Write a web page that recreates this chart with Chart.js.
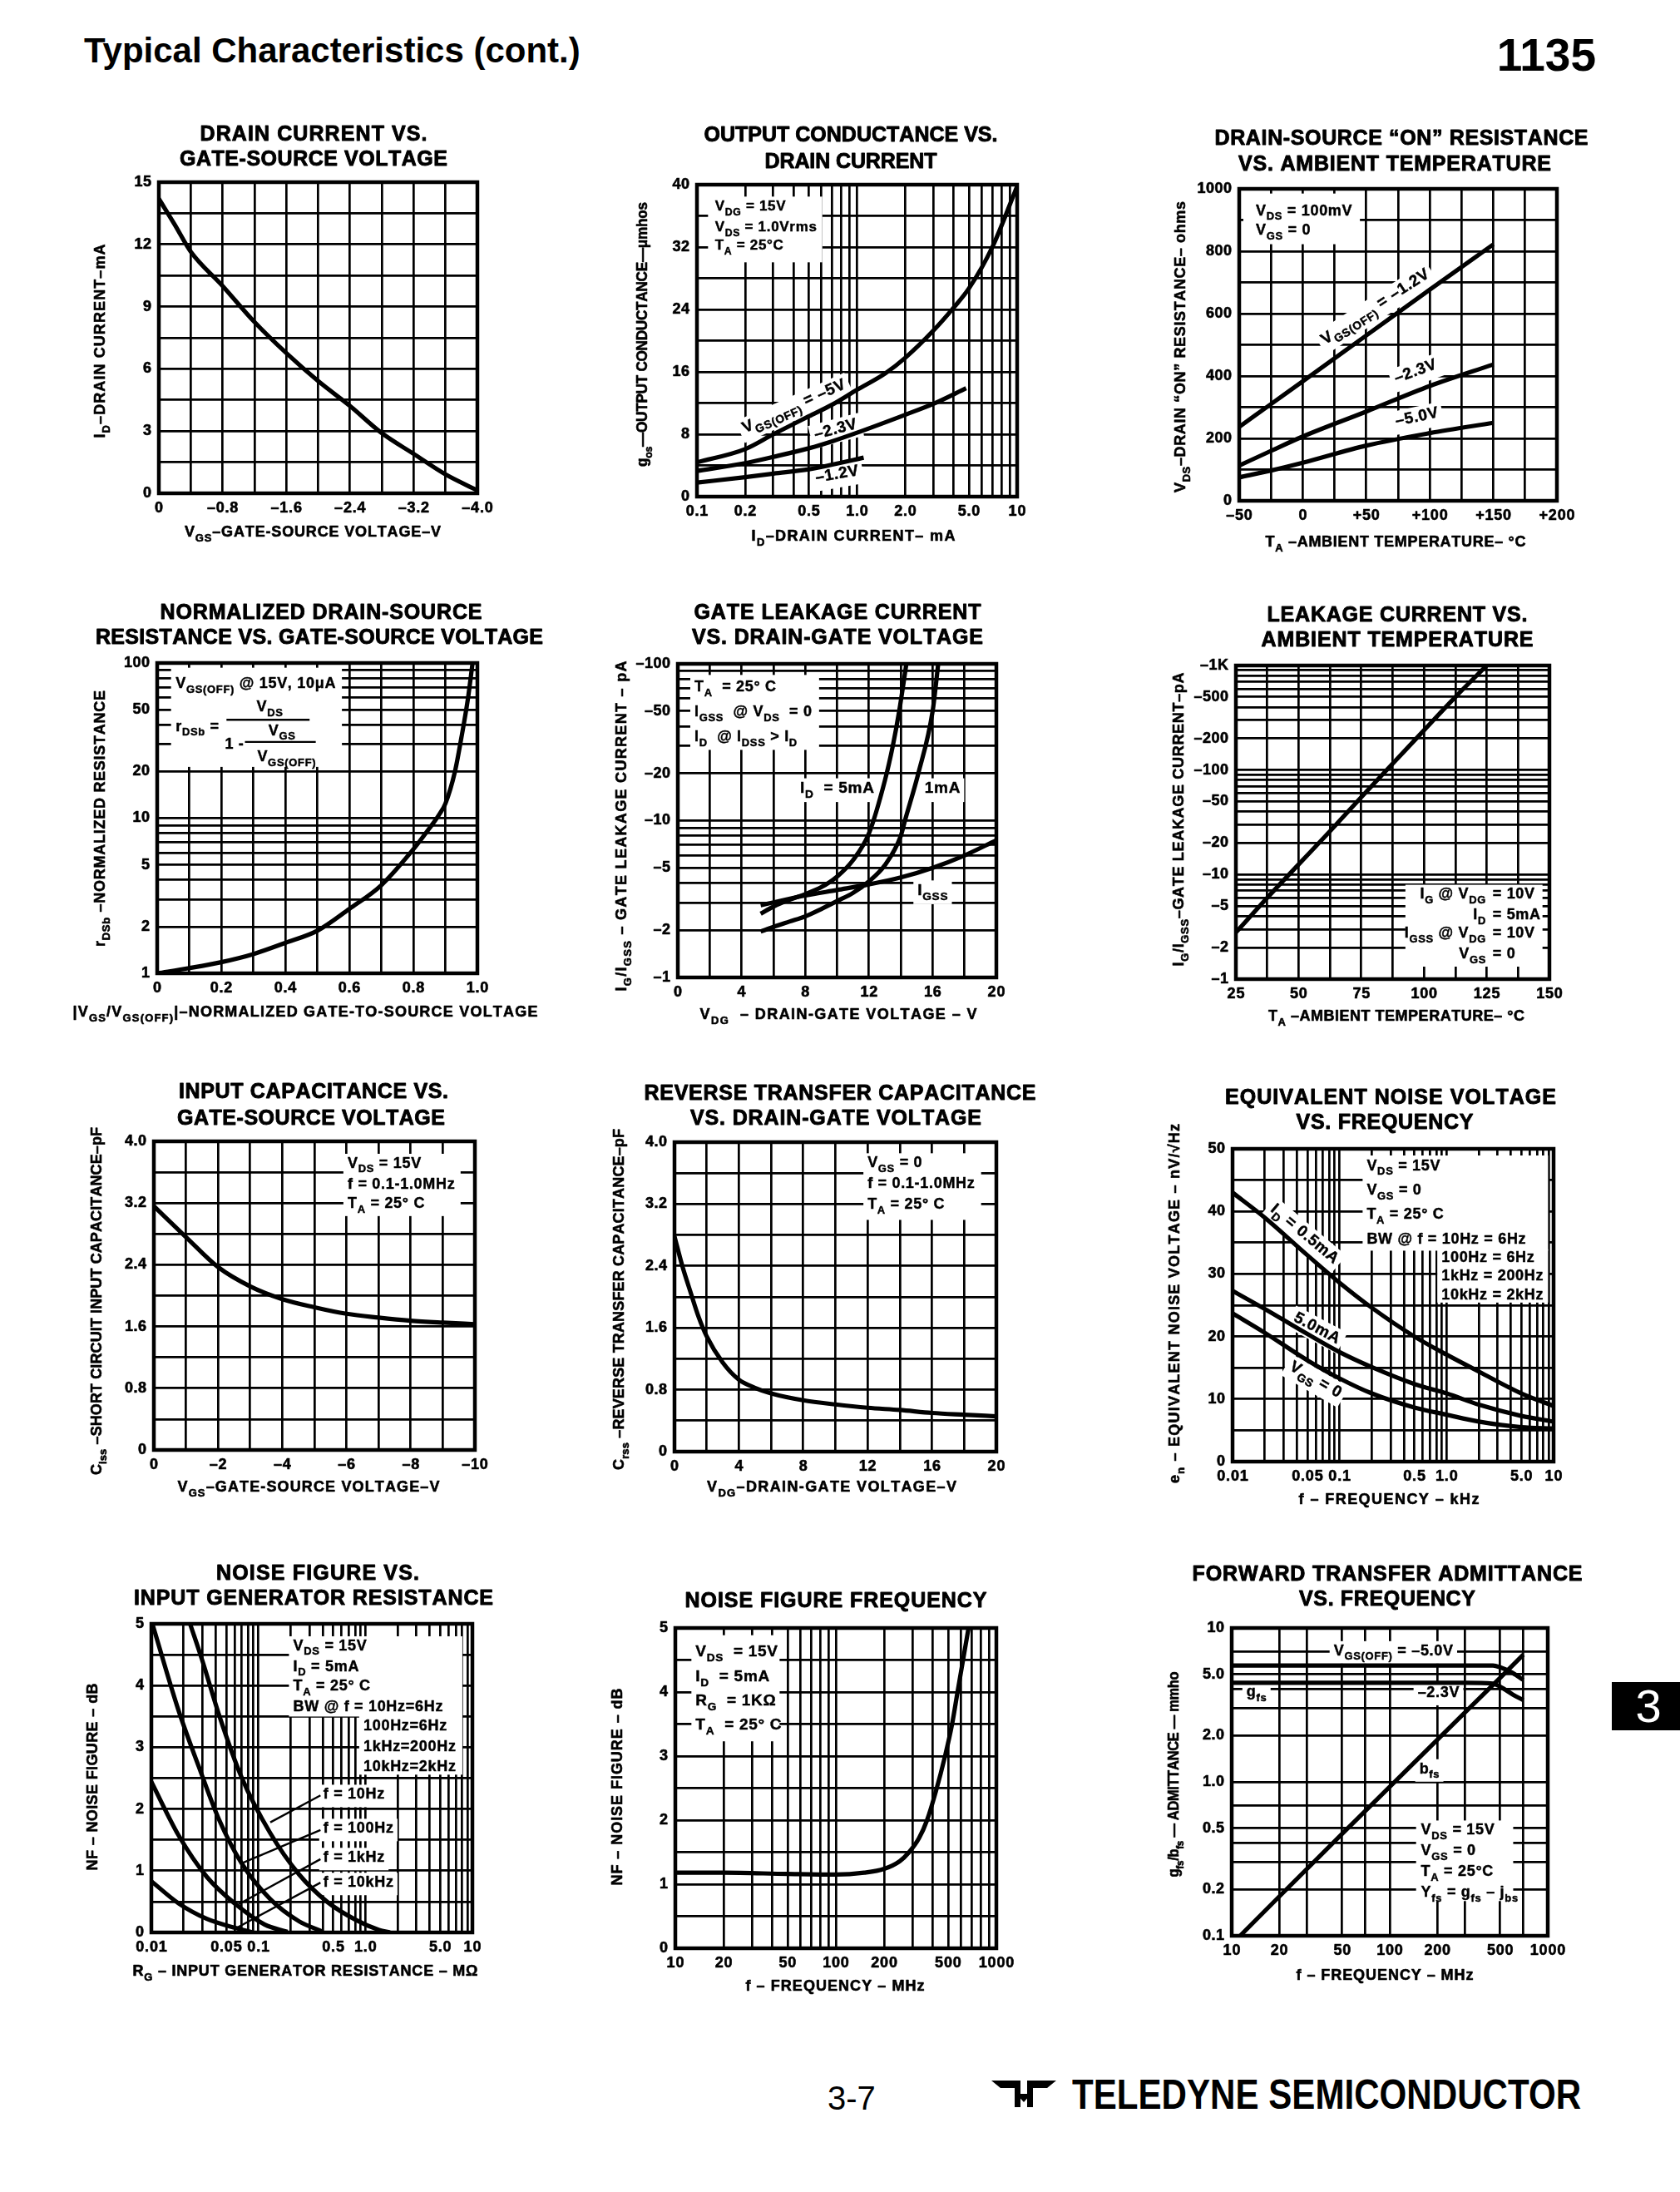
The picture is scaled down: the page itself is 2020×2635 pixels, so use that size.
<!DOCTYPE html>
<html><head><meta charset="utf-8">
<script src="https://cdn.jsdelivr.net/npm/chart.js@4.4.1/dist/chart.umd.min.js"></script>
<style>
html,body{margin:0;padding:0;background:#fff;}
body{width:2020px;height:2635px;position:relative;overflow:hidden;font-family:"Liberation Sans",Arial,Helvetica,sans-serif;color:#000;}
.abs{position:absolute;white-space:nowrap;line-height:1;}
</style></head><body>
<div class="abs" style="left:101px;top:40px;font-size:42px;font-weight:bold;">Typical Characteristics (cont.)</div>
<div class="abs" style="right:101px;top:39px;font-size:55px;font-weight:bold;">1135</div>
<div class="abs" style="left:995px;top:2502px;font-size:40px;">3-7</div>
<canvas id="logo" class="abs" width="80" height="40" style="left:1192px;top:2497px;"></canvas>
<div class="abs" style="left:1289px;top:2493px;font-size:50px;font-weight:bold;transform:scaleX(0.842);transform-origin:left top;">TELEDYNE SEMICONDUCTOR</div>
<script>
// ================= DATA =================
// 1 Drain current vs gate-source voltage
const c1_vgs = [0,-0.2,-0.4,-0.8,-1.2,-1.6,-2.0,-2.4,-2.8,-3.2,-3.6,-4.0];
const c1_id  = [14.2,12.95,11.65,10.0,8.26,6.76,5.41,4.21,2.9,1.9,0.91,0.14];
const c1_xTickVals = [0,-0.8,-1.6,-2.4,-3.2,-4.0];
const c1_xTickLbls = ['0','–0.8','–1.6','–2.4','–3.2','–4.0'];
const c1_yTickVals = [0,3,6,9,12,15];
const c1_yTickLbls = ['0','3','6','9','12','15'];
// 2 Output conductance vs drain current
const c2_id5  = [0.1,0.2,0.3,0.5,0.7,1.0,1.5,2.0,3.0,4.0,5.0,7.0,10];
const c2_gos5 = [4.4,6.1,8.0,10.3,11.8,13.7,15.8,17.8,21.3,24.2,26.7,32.0,39.8];
const c2_id23  = [0.1,0.2,0.3,0.5,0.7,1.0,2.0,3.0,4.8];
const c2_gos23 = [3.3,4.3,5.1,6.2,7.1,8.2,10.5,11.9,13.9];
const c2_id12  = [0.1,0.2,0.3,0.5,0.7,1.1];
const c2_gos12 = [1.8,2.5,2.95,3.5,4.1,5.0];
const c2_xTickVals = [0.1,0.2,0.5,1,2,5,10];
const c2_xTickLbls = ['0.1','0.2','0.5','1.0','2.0','5.0','10'];
const c2_yTickVals = [0,8,16,24,32,40];
const c2_yTickLbls = ['0','8','16','24','32','40'];
// 3 Drain-source ON resistance vs temperature
const c3_temp = [-50,-25,0,50,100,150];
const c3_r12  = [237,310,383,530,677,822];
const c3_r23  = [113,160,206,286,368,437];
const c3_r50  = [75,97,122,177,217,250];
const c3_xTickVals = [-50,0,50,100,150,200];
const c3_xTickLbls = ['–50','0','+50','+100','+150','+200'];
const c3_yTickVals = [0,200,400,600,800,1000];
const c3_yTickLbls = ['0','200','400','600','800','1000'];
// 4 Normalized drain-source resistance
const c4_vr = [0,0.1,0.2,0.3,0.4,0.5,0.6,0.7,0.8,0.85,0.88,0.9,0.93,0.95,0.97,0.985];
const c4_r  = [1.0,1.08,1.18,1.33,1.57,1.88,2.6,3.7,6.3,8.6,10.5,12.4,20,33,58,100];
const c4_xTickVals = [0,0.2,0.4,0.6,0.8,1.0];
const c4_xTickLbls = ['0','0.2','0.4','0.6','0.8','1.0'];
const c4_yTickVals = [1,2,5,10,20,50,100];
const c4_yTickLbls = ['1','2','5','10','20','50','100'];
// 5 Gate leakage current vs drain-gate voltage (magnitudes, pA)
const c5_v5  = [5.2,6,7,8,9,10,11,12,13,13.5,13.9,14.35];
const c5_i5  = [2.55,2.83,3.13,3.4,3.76,4.4,5.6,8.3,18,30,50,100];
const c5_v1  = [5.2,6,7,8,9,10,11,12,13,14,14.26,15.1,16.0,16.35];
const c5_i1  = [1.96,2.1,2.27,2.45,2.73,3.07,3.46,4.1,5.2,8.0,10,20,50,100];
const c5_vg  = [5.2,8,10,12,14,16,18,20];
const c5_ig  = [2.89,3.33,3.61,3.92,4.34,5.0,6.0,7.5];
const c5_xTickVals = [0,4,8,12,16,20];
const c5_xTickLbls = ['0','4','8','12','16','20'];
const c5_yTickVals = [1,2,5,10,20,50,100];
const c5_yTickLbls = ['–1','–2','–5','–10','–20','–50','–100'];
// 6 Leakage current vs ambient temperature
const c6_temp = [25,37.5,50,62.5,75,87.5,100,112.5,125];
const c6_leak = [2.8,6.0,12.5,26,55,115,240,500,1000];
const c6_xTickVals = [25,50,75,100,125,150];
const c6_xTickLbls = ['25','50','75','100','125','150'];
const c6_yTickVals = [1,2,5,10,20,50,100,200,500,1000];
const c6_yTickLbls = ['–1','–2','–5','–10','–20','–50','–100','–200','–500','–1K'];
// 7 Input capacitance vs gate-source voltage
const c7_vgs  = [0,-1,-2,-3,-4,-5,-6,-7,-8,-9,-10];
const c7_ciss = [3.16,2.76,2.37,2.12,1.955,1.85,1.765,1.715,1.675,1.65,1.63];
const c7_xTickVals = [0,-2,-4,-6,-8,-10];
const c7_xTickLbls = ['0','–2','–4','–6','–8','–10'];
const cap_yTickVals = [0,0.8,1.6,2.4,3.2,4.0];
const cap_yTickLbls = ['0','0.8','1.6','2.4','3.2','4.0'];
// 8 Reverse transfer capacitance vs drain-gate voltage
const c8_vdg  = [0,0.5,1,1.5,2,3,4,5,6,8,10,12,14,16,18,20];
const c8_crss = [2.78,2.39,2.06,1.74,1.49,1.15,0.93,0.825,0.753,0.664,0.61,0.567,0.538,0.50,0.477,0.456];
const c8_xTickVals = [0,4,8,12,16,20];
const c8_xTickLbls = ['0','4','8','12','16','20'];
// 9 Equivalent noise voltage vs frequency
const c9_f    = [0.01,0.02,0.05,0.1,0.2,0.5,1,2,5,10];
const c9_en05 = [43.0,39.0,33.0,28.6,24.6,20.0,17.1,14.4,10.9,8.9];
const c9_en5  = [27.3,24.4,20.4,17.5,15.1,12.4,10.9,9.1,7.3,6.4];
const c9_envg = [23.7,20.6,16.2,13.3,10.9,8.65,7.5,6.4,5.5,5.3];
const khz_xTickVals = [0.01,0.05,0.1,0.5,1,5,10];
const khz_xTickLbls = ['0.01','0.05','0.1','0.5','1.0','5.0','10'];
const c9_yTickVals = [0,10,20,30,40,50];
const c9_yTickLbls = ['0','10','20','30','40','50'];
// 10 Noise figure vs input generator resistance
const c10_rA = [0.023,0.03,0.0426,0.0698,0.129,0.24,0.444,0.82,1.34,1.7];
const c10_nA = [5.0,4.4,3.54,2.51,1.61,0.94,0.49,0.2,0.04,0.0];
const c10_rB = [0.0103,0.018,0.0277,0.0426,0.0698,0.129,0.24,0.39];
const c10_nB = [4.98,3.59,2.69,1.84,1.12,0.54,0.18,0.02];
const c10_rC = [0.01,0.018,0.033,0.062,0.114,0.187];
const c10_nC = [2.44,1.57,0.9,0.45,0.13,0.01];
const c10_rD = [0.01,0.018,0.033,0.062,0.089];
const c10_nD = [0.83,0.47,0.22,0.07,0.0];
const nf_yTickVals = [0,1,2,3,4,5];
const nf_yTickLbls = ['0','1','2','3','4','5'];
// 11 Noise figure vs frequency
const c11_f  = [10,20,50,100,150,200,250,286,330,370,420,479,530,573,620,671];
const c11_nf = [1.18,1.18,1.16,1.15,1.18,1.24,1.36,1.5,1.72,2.0,2.45,3.0,3.5,4.0,4.5,5.0];
const mhz_xTickVals = [10,20,50,100,200,500,1000];
const mhz_xTickLbls = ['10','20','50','100','200','500','1000'];
// 12 Forward transfer admittance vs frequency
const c12_fg  = [10,20,50,100,200,300,450,500,600,700];
const c12_g5  = [5.7,5.7,5.7,5.7,5.7,5.7,5.7,5.55,5.1,4.6];
const c12_g23 = [4.4,4.4,4.4,4.4,4.4,4.4,4.35,4.15,3.7,3.4];
const c12_fb  = [11.3,20,50,100,200,500,700];
const c12_b   = [0.1,0.18,0.46,0.93,1.88,4.75,6.7];
const c12_yTickVals = [0.1,0.2,0.5,1,2,5,10];
const c12_yTickLbls = ['0.1','0.2','0.5','1.0','2.0','5.0','10'];

// ================= HELPERS =================
const FAM = '"Liberation Sans", Arial, Helvetica, sans-serif';
function lin(a,b,step){const o=[];const n=Math.round((b-a)/step);for(let i=0;i<=n;i++)o.push(+(a+i*step).toFixed(6));return o;}
function logg(a,b,mults){const o=[];for(let d=Math.floor(Math.log10(a)+1e-9);Math.pow(10,d)<=b*1.0001;d++){mults.forEach(m=>{const v=+(m*Math.pow(10,d)).toPrecision(6);if(v>=a*0.9999&&v<=b*1.0001)o.push(v);});}return o;}
const ALL=[1,2,3,4,5,6,7,8,9];
function segs(str){const out=[];const re=/_\{([^}]*)\}/g;let last=0,m;while((m=re.exec(str))){if(m.index>last)out.push({t:str.slice(last,m.index),sub:false});out.push({t:m[1],sub:true});last=re.lastIndex;}if(last<str.length)out.push({t:str.slice(last),sub:false});return out;}
function drawRich(ctx,str,x,y,o){
  o=o||{};const size=o.size||15,wt=o.weight||'bold',sub=size*0.72;
  const parts=segs(str);let natural=0,nch=0;
  parts.forEach(p=>{ctx.font=`${wt} ${p.sub?sub:size}px ${FAM}`;p.cw=[...p.t].map(ch=>ctx.measureText(ch).width);natural+=p.cw.reduce((a,b)=>a+b,0);nch+=p.cw.length;});
  let L=o.ls||0,sx=1;
  if(o.fit){L=(o.fit-natural)/Math.max(1,nch-1);if(L>6)L=6;if(L<-0.3){L=-0.3;sx=o.fit/(natural+L*(nch-1));}}
  const w=(natural+L*(nch-1))*sx;
  ctx.save();ctx.translate(x,y);if(o.rot)ctx.rotate(o.rot*Math.PI/180);
  let x0=o.align==='center'?-w/2:o.align==='right'?-w:0;
  if(o.bg){ctx.fillStyle='#fff';ctx.fillRect(x0-5,-size*0.66,w+10,size*1.5);}
  if(o.bgOnly){ctx.restore();return;}
  ctx.scale(sx,1);x0/=sx;
  ctx.fillStyle='#000';ctx.strokeStyle='#000';ctx.lineWidth=o.stroke||0;ctx.lineJoin='round';
  ctx.textBaseline='middle';ctx.textAlign='left';
  let cx=x0;
  parts.forEach(p=>{ctx.font=`${wt} ${p.sub?sub:size}px ${FAM}`;const dy=p.sub?size*0.4:0;[...p.t].forEach((ch,i)=>{ctx.fillText(ch,cx,dy);if(o.stroke)ctx.strokeText(ch,cx,dy);cx+=p.cw[i]+L;});});
  ctx.restore();
}

let chartCount=0;
function buildChart(spec){
  const bx=spec.plot[0]-125,by=spec.plot[1]-105,bw=spec.plot[2]+82-bx,bh=spec.plot[3]+88-by;
  const wrap=document.createElement('div');
  wrap.style.cssText=`position:absolute;left:${bx}px;top:${by}px;width:${bw}px;height:${bh}px;`;
  const cv=document.createElement('canvas');wrap.appendChild(cv);document.body.appendChild(wrap);
  const pad={left:spec.plot[0]-bx,top:spec.plot[1]-by,right:bx+bw-spec.plot[2],bottom:by+bh-spec.plot[3]};
  const axis=(a)=>({type:a.type,min:a.min,max:a.max,reverse:!!a.reverse,display:true,
    grid:{display:true,color:'#000',lineWidth:2.7,drawTicks:false,drawOnChartArea:true},
    border:{display:false},ticks:{display:false,autoSkip:false},title:{display:false},
    afterBuildTicks:(s)=>{s.ticks=a.grid.map(v=>({value:v}));}});
  const AS=spec.asz||18;
  const plugin={id:'decor'+(chartCount++),
    beforeDatasetsDraw(chart){
      const ctx=chart.ctx,ca=chart.chartArea,f=spec.frame;
      const map=(zx,zy)=>[ca.left+(zx-f[0])/(f[2]-f[0])*(ca.right-ca.left),ca.top+(zy-f[1])/(f[3]-f[1])*(ca.bottom-ca.top)];
      const ann=spec.ann||[];
      ctx.save();ctx.fillStyle='#fff';
      ann.forEach(a=>{if(a.box){const p=map(a.box[0],a.box[1]),q=map(a.box[2],a.box[3]);ctx.fillRect(p[0],p[1],q[0]-p[0],q[1]-p[1]);}});
      ann.forEach(a=>{if(a.t&&a.bg){const p=map(a.x,a.y);drawRich(ctx,a.t,p[0],p[1],{size:a.s||AS,align:a.a,rot:a.r,ls:0.7,bg:true,bgOnly:true});}});
      ctx.strokeStyle='#000';
      ann.forEach(a=>{if(a.line){const p=map(a.line[0],a.line[1]),q=map(a.line[2],a.line[3]);ctx.lineWidth=a.w||2.4;ctx.beginPath();ctx.moveTo(p[0],p[1]);ctx.lineTo(q[0],q[1]);ctx.stroke();}});
      ann.forEach(a=>{if(a.t){const p=map(a.x,a.y);drawRich(ctx,a.t,p[0],p[1],{size:a.s||AS,align:a.a,rot:a.r,ls:0.7,stroke:0.45});}});
      ctx.restore();
    },
    afterDraw(chart){
      const ctx=chart.ctx,ca=chart.chartArea,xs=chart.scales.x,ys=chart.scales.y;
      ctx.save();
      ctx.strokeStyle='#000';ctx.lineWidth=4.5;ctx.strokeRect(ca.left,ca.top,ca.right-ca.left,ca.bottom-ca.top);
      spec.xt[0].forEach((v,i)=>drawRich(ctx,spec.xt[1][i],xs.getPixelForValue(v),ca.bottom+18,{size:18,align:'center',ls:0.8,stroke:0.6}));
      spec.yt[0].forEach((v,i)=>drawRich(ctx,spec.yt[1][i],ca.left-9,ys.getPixelForValue(v),{size:18,align:'right',ls:0.5,stroke:0.6}));
      spec.titles.forEach(t=>drawRich(ctx,t[0],t[1]-bx,t[2]-by,{size:25,align:'center',fit:t[3],stroke:0.9}));
      const xt=spec.xTitle,yt=spec.yTitle;
      drawRich(ctx,xt[0],xt[1]-bx,xt[2]-by,{size:18,align:'center',fit:xt[3],stroke:0.6});
      drawRich(ctx,yt[0],yt[1]-bx,yt[2]-by,{size:18,align:'center',rot:-90,fit:yt[3],stroke:0.6});
      ctx.restore();
    }};
  new Chart(cv,{type:'line',
    data:{datasets:spec.series.map(([xa,ya])=>({data:xa.map((x,i)=>({x,y:ya[i]})),borderColor:'#000',borderWidth:5.2,pointRadius:0,pointHoverRadius:0,fill:false,cubicInterpolationMode:'monotone',borderCapStyle:'butt',borderJoinStyle:'round'}))},
    options:{responsive:true,maintainAspectRatio:false,animation:false,devicePixelRatio:1,events:[],
      layout:{padding:pad},plugins:{legend:{display:false},tooltip:{enabled:false},title:{display:false}},
      scales:{x:axis(spec.x),y:axis(spec.y)}},
    plugins:[plugin]});
}

// ================= CHART SPECS =================
const SPECS=[
 {plot:[191,219,574,593],frame:[320,237,1470,1360],
  x:{type:'linear',min:-4,max:0,reverse:true,grid:lin(-4,0,0.4)},y:{type:'linear',min:0,max:15,grid:lin(0,15,1.5)},
  xt:[c1_xTickVals,c1_xTickLbls],yt:[c1_yTickVals,c1_yTickLbls],series:[[c1_vgs,c1_id]],
  titles:[['DRAIN CURRENT VS.',377,162,273],['GATE-SOURCE VOLTAGE',377,192,322]],
  xTitle:['V_{GS}–GATE-SOURCE VOLTAGE–V',376,640,308],yTitle:['I_{D}–DRAIN CURRENT–mA',121,410,233],ann:[]},
 {plot:[838,222,1223,597],frame:[310,245,1465,1370],asz:17,
  x:{type:'logarithmic',min:0.1,max:10,grid:logg(0.1,10,ALL)},y:{type:'linear',min:0,max:40,grid:lin(0,40,4)},
  xt:[c2_xTickVals,c2_xTickLbls],yt:[c2_yTickVals,c2_yTickLbls],
  series:[[c2_id5,c2_gos5],[c2_id23,c2_gos23],[c2_id12,c2_gos12]],
  titles:[['OUTPUT CONDUCTANCE VS.',1023,163,353],['DRAIN CURRENT',1023,195,207]],
  xTitle:['I_{D}–DRAIN CURRENT– mA',1026,645,245],yTitle:['g_{os}—OUTPUT CONDUCTANCE—μmhos',773,402,318],
  ann:[{box:[350,288,762,525]},{t:'V_{DG} = 15V',x:375,y:325},{t:'V_{DS} = 1.0Vrms',x:375,y:400},{t:'T_{A} = 25°C',x:375,y:465},
   {t:'V_{GS(OFF)} = –5V',x:660,y:1045,a:'center',r:-24,bg:1,s:19},{t:'–2.3V',x:810,y:1128,a:'center',r:-15,bg:1,s:19},{t:'–1.2V',x:815,y:1290,a:'center',r:-10,bg:1,s:19}]},
 {plot:[1490,227,1872,602],frame:[270,245,1415,1372],
  x:{type:'linear',min:-50,max:200,grid:lin(-50,200,25)},y:{type:'linear',min:0,max:1000,grid:lin(0,1000,100)},
  xt:[c3_xTickVals,c3_xTickLbls],yt:[c3_yTickVals,c3_yTickLbls],
  series:[[c3_temp,c3_r12],[c3_temp,c3_r23],[c3_temp,c3_r50]],
  titles:[['DRAIN-SOURCE “ON” RESISTANCE',1685,167,449],['VS. AMBIENT TEMPERATURE',1677,198,376]],
  xTitle:['T_{A} –AMBIENT TEMPERATURE– °C',1678,652,313],yTitle:['V_{DS}–DRAIN “ON” RESISTANCE– ohms',1420,417,350],
  ann:[{box:[285,262,705,445]},{t:'V_{DS} = 100mV',x:330,y:325},{t:'V_{GS} = 0',x:330,y:395},
   {t:'V_{GS(OFF)} = –1.2V',x:760,y:672,a:'center',r:-33,bg:1,s:19},{t:'–2.3V',x:905,y:905,a:'center',r:-20,bg:1,s:19},{t:'–5.0V',x:910,y:1070,a:'center',r:-12,bg:1,s:19}]},
 {plot:[189,797,574,1170],frame:[285,245,1325,1365],
  x:{type:'linear',min:0,max:1,grid:lin(0,1,0.1)},y:{type:'logarithmic',min:1,max:100,grid:logg(1,100,ALL)},
  xt:[c4_xTickVals,c4_xTickLbls],yt:[c4_yTickVals,c4_yTickLbls],series:[[c4_vr,c4_r]],
  titles:[['NORMALIZED DRAIN-SOURCE',386,737,387],['RESISTANCE VS. GATE-SOURCE VOLTAGE',384,767,538]],
  xTitle:['|V_{GS}/V_{GS(OFF)}|–NORMALIZED GATE-TO-SOURCE VOLTAGE',367,1217,559],yTitle:['r_{DSb} –NORMALIZED RESISTANCE',121,984,308],
  ann:[{box:[330,262,885,620]},{t:'V_{GS(OFF)} @ 15V, 10μA',x:345,y:320},{t:'r_{DSb} =',x:345,y:475},
   {line:[510,450,780,450],w:2.4},{t:'V_{DS}',x:650,y:405,a:'center'},{t:'1 -',x:505,y:540},
   {line:[570,530,800,530],w:2.4},{t:'V_{GS}',x:690,y:490,a:'center'},{t:'V_{GS(OFF)}',x:705,y:585,a:'center'}]},
 {plot:[815,798,1198,1175],frame:[240,250,1390,1380],
  x:{type:'linear',min:0,max:20,grid:lin(0,20,2)},y:{type:'logarithmic',min:1,max:100,grid:logg(1,100,ALL)},
  xt:[c5_xTickVals,c5_xTickLbls],yt:[c5_yTickVals,c5_yTickLbls],
  series:[[c5_v5,c5_i5],[c5_v1,c5_i1],[c5_vg,c5_ig]],
  titles:[['GATE LEAKAGE CURRENT',1007,737,345],['VS. DRAIN-GATE VOLTAGE',1007,767,350]],
  xTitle:['V_{DG}  – DRAIN-GATE VOLTAGE – V',1008,1220,333],yTitle:['I_{G}/I_{GSS} – GATE LEAKAGE CURRENT – pA',748,993,397],
  ann:[{box:[285,290,750,560]},{t:'T_{A}  = 25° C',x:300,y:335},{t:'I_{GSS}  @ V_{DS}  = 0',x:300,y:425},{t:'I_{D}  @ I_{DSS} > I_{D}',x:300,y:515},
   {t:'I_{D}  = 5mA',x:815,y:700,a:'center',bg:1,s:19},{t:'1mA',x:1195,y:700,a:'center',bg:1,s:19},{t:'I_{GSS}',x:1160,y:1068,a:'center',bg:1,s:19}]},
 {plot:[1486,800,1863,1177],frame:[258,255,1390,1385],
  x:{type:'linear',min:25,max:150,grid:lin(25,150,12.5)},y:{type:'logarithmic',min:1,max:1000,grid:logg(1,1000,ALL)},
  xt:[c6_xTickVals,c6_xTickLbls],yt:[c6_yTickVals,c6_yTickLbls],series:[[c6_temp,c6_leak]],
  titles:[['LEAKAGE CURRENT VS.',1680,740,313],['AMBIENT TEMPERATURE',1680,770,327]],
  xTitle:['T_{A} –AMBIENT TEMPERATURE– °C',1679,1222,308],yTitle:['I_{G}/I_{GSS}–GATE LEAKAGE CURRENT–pA',1418,985,353],
  ann:[{box:[870,1045,1365,1340]},
   {t:'I_{G} @ V_{DG}',x:1160,y:1080,a:'right'},{t:'= 10V',x:1185,y:1080},
   {t:'I_{D}',x:1160,y:1155,a:'right'},{t:'= 5mA',x:1185,y:1155},
   {t:'I_{GSS} @ V_{DG}',x:1160,y:1220,a:'right'},{t:'= 10V',x:1185,y:1220},
   {t:'V_{GS}',x:1160,y:1295,a:'right'},{t:'= 0',x:1185,y:1295}]},
 {plot:[185,1372,571,1743],frame:[292,245,1415,1360],
  x:{type:'linear',min:-10,max:0,reverse:true,grid:lin(-10,0,1)},y:{type:'linear',min:0,max:4,grid:lin(0,4,0.4)},
  xt:[c7_xTickVals,c7_xTickLbls],yt:[cap_yTickVals,cap_yTickLbls],series:[[c7_vgs,c7_ciss]],
  titles:[['INPUT CAPACITANCE VS.',377,1313,324],['GATE-SOURCE VOLTAGE',374,1345,322]],
  xTitle:['V_{GS}–GATE-SOURCE VOLTAGE–V',371,1788,315],yTitle:['C_{iss} –SHORT CIRCUIT INPUT CAPACITANCE–pF',117,1564,418],
  ann:[{box:[955,290,1365,515]},{t:'V_{DS} = 15V',x:970,y:325},{t:'f = 0.1-1.0MHz',x:970,y:400},{t:'T_{A} = 25° C',x:970,y:470}]},
 {plot:[811,1373,1198,1745],frame:[228,250,1390,1365],
  x:{type:'linear',min:0,max:20,grid:lin(0,20,2)},y:{type:'linear',min:0,max:4,grid:lin(0,4,0.4)},
  xt:[c8_xTickVals,c8_xTickLbls],yt:[cap_yTickVals,cap_yTickLbls],series:[[c8_vdg,c8_crss]],
  titles:[['REVERSE TRANSFER CAPACITANCE',1010,1315,471],['VS. DRAIN-GATE VOLTAGE',1005,1345,350]],
  xTitle:['V_{DG}–DRAIN-GATE VOLTAGE–V',1000,1788,300],yTitle:['C_{rss} –REVERSE TRANSFER CAPACITANCE–pF',745,1562,410],
  ann:[{box:[910,290,1335,530]},{t:'V_{GS} = 0',x:925,y:325},{t:'f = 0.1-1.0MHz',x:925,y:400},{t:'T_{A} = 25° C',x:925,y:475}]},
 {plot:[1482,1381,1868,1757],frame:[245,258,1405,1385],
  x:{type:'logarithmic',min:0.01,max:10,grid:logg(0.01,10,ALL)},y:{type:'linear',min:0,max:50,grid:lin(0,50,5)},
  xt:[khz_xTickVals,khz_xTickLbls],yt:[c9_yTickVals,c9_yTickLbls],
  series:[[c9_f,c9_en05],[c9_f,c9_en5],[c9_f,c9_envg]],
  titles:[['EQUIVALENT NOISE VOLTAGE',1672,1320,398],['VS. FREQUENCY',1665,1350,213]],
  xTitle:['f – FREQUENCY – kHz',1670,1803,217],yTitle:['e_{n} – EQUIVALENT NOISE VOLTAGE – nV/√Hz',1413,1567,432],
  ann:[{box:[715,282,1385,625]},{box:[985,620,1385,812]},
   {t:'V_{DS} = 15V',x:730,y:320},{t:'V_{GS} = 0',x:730,y:408},{t:'T_{A} = 25° C',x:730,y:495},
   {t:'BW @ f = 10Hz = 6Hz',x:730,y:585},{t:'100Hz = 6Hz',x:1000,y:652},{t:'1kHz = 200Hz',x:1000,y:718},{t:'10kHz = 2kHz',x:1000,y:785},
   {t:'I_{D} = 0.5mA',x:505,y:565,a:'center',r:40,bg:1,s:19},{t:'5.0mA',x:550,y:905,a:'center',r:28,bg:1,s:19},{t:'V_{GS} = 0',x:545,y:1090,a:'center',r:30,bg:1,s:19}]},
 {plot:[182,1952,568,2323],frame:[285,245,1405,1360],
  x:{type:'logarithmic',min:0.01,max:10,grid:logg(0.01,10,ALL)},y:{type:'linear',min:0,max:5,grid:lin(0,5,0.5)},
  xt:[khz_xTickVals,khz_xTickLbls],yt:[nf_yTickVals,nf_yTickLbls],
  series:[[c10_rA,c10_nA],[c10_rB,c10_nB],[c10_rC,c10_nC],[c10_rD,c10_nD]],
  titles:[['NOISE FIGURE VS.',382,1892,244],['INPUT GENERATOR RESISTANCE',377,1922,432]],
  xTitle:['R_{G} – INPUT GENERATOR RESISTANCE – MΩ',367,2370,415],yTitle:['NF – NOISE FIGURE – dB',112,2136,225],
  ann:[{box:[765,290,1370,580]},{box:[1010,575,1370,790]},
   {t:'V_{DS} = 15V',x:780,y:325},{t:'I_{D} = 5mA',x:780,y:400},{t:'T_{A} = 25° C',x:780,y:470},
   {t:'BW @ f = 10Hz=6Hz',x:780,y:545},{t:'100Hz=6Hz',x:1025,y:615},{t:'1kHz=200Hz',x:1025,y:690},{t:'10kHz=2kHz',x:1025,y:762},
   {line:[875,865,700,962]},{t:'f = 10Hz',x:885,y:862,bg:1},
   {line:[875,990,600,1110]},{t:'f = 100Hz',x:885,y:985,bg:1},
   {line:[875,1095,590,1258]},{t:'f = 1kHz',x:885,y:1090,bg:1},
   {line:[875,1180,580,1345]},{t:'f = 10kHz',x:885,y:1180,bg:1}]},
 {plot:[812,1957,1198,2342],frame:[232,172,1390,1325],asz:19,
  x:{type:'logarithmic',min:10,max:1000,grid:logg(10,1000,ALL)},y:{type:'linear',min:0,max:5,grid:lin(0,5,0.5)},
  xt:[mhz_xTickVals,mhz_xTickLbls],yt:[nf_yTickVals,nf_yTickLbls],series:[[c11_f,c11_nf]],
  titles:[['NOISE FIGURE FREQUENCY',1005,1925,363]],
  xTitle:['f – FREQUENCY – MHz',1004,2388,215],yTitle:['NF – NOISE FIGURE – dB',743,2148,237],
  ann:[{box:[290,198,608,580]},{t:'V_{DS}  = 15V',x:305,y:258},{t:'I_{D}  = 5mA',x:305,y:348},{t:'R_{G}  = 1KΩ',x:305,y:435},{t:'T_{A}  = 25° C',x:305,y:522}]},
 {plot:[1481,1957,1861,2327],frame:[205,262,1165,1370],
  x:{type:'logarithmic',min:10,max:1000,grid:logg(10,1000,[1,2,3,5,7])},y:{type:'logarithmic',min:0.1,max:10,grid:logg(0.1,10,[1,2,3,4,5,7])},
  xt:[mhz_xTickVals,mhz_xTickLbls],yt:[c12_yTickVals,c12_yTickLbls],
  series:[[c12_fg,c12_g5],[c12_fg,c12_g23],[c12_fb,c12_b]],
  titles:[['FORWARD TRANSFER ADMITTANCE',1668,1893,469],['VS. FREQUENCY',1668,1923,212]],
  xTitle:['f – FREQUENCY – MHz',1665,2375,213],yTitle:['g_{fs}/b_{fs} — ADMITTANCE — mmho',1412,2133,247],
  ann:[{t:'V_{GS(OFF)} = –5.0V',x:515,y:345,bg:1},{t:'g_{fs}',x:250,y:492,bg:1},{t:'–2.3V',x:770,y:495,bg:1},{t:'b_{fs}',x:775,y:770,bg:1},
   {box:[765,955,1060,1245]},{t:'V_{DS} = 15V',x:780,y:990},{t:'V_{GS} = 0',x:780,y:1065},{t:'T_{A} = 25°C',x:780,y:1140},{t:'Y_{fs} = g_{fs} – j_{bs}',x:780,y:1215}]}
];
SPECS.forEach(buildChart);

// section tab "3"
const tab=document.createElement('div');
tab.style.cssText='position:absolute;left:1938px;top:2022px;width:82px;height:58px;background:#000;color:#fff;font-size:56px;line-height:58px;text-align:center;padding-left:6px;box-sizing:border-box;';
tab.textContent='3';document.body.appendChild(tab);

// logo
(function(){const c=document.getElementById('logo').getContext('2d');c.fillStyle='#000';
 c.beginPath();c.moveTo(0,4);c.lineTo(35,4);c.lineTo(35,36);c.lineTo(28,36);c.lineTo(28,13);c.lineTo(11,13);c.closePath();c.fill();
 c.beginPath();c.moveTo(78,4);c.lineTo(43,4);c.lineTo(43,36);c.lineTo(50,36);c.lineTo(50,13);c.lineTo(67,13);c.closePath();c.fill();
 c.beginPath();c.moveTo(30,20);c.lineTo(48,20);c.lineTo(39,30);c.closePath();c.fill();})();
</script>
</body></html>
